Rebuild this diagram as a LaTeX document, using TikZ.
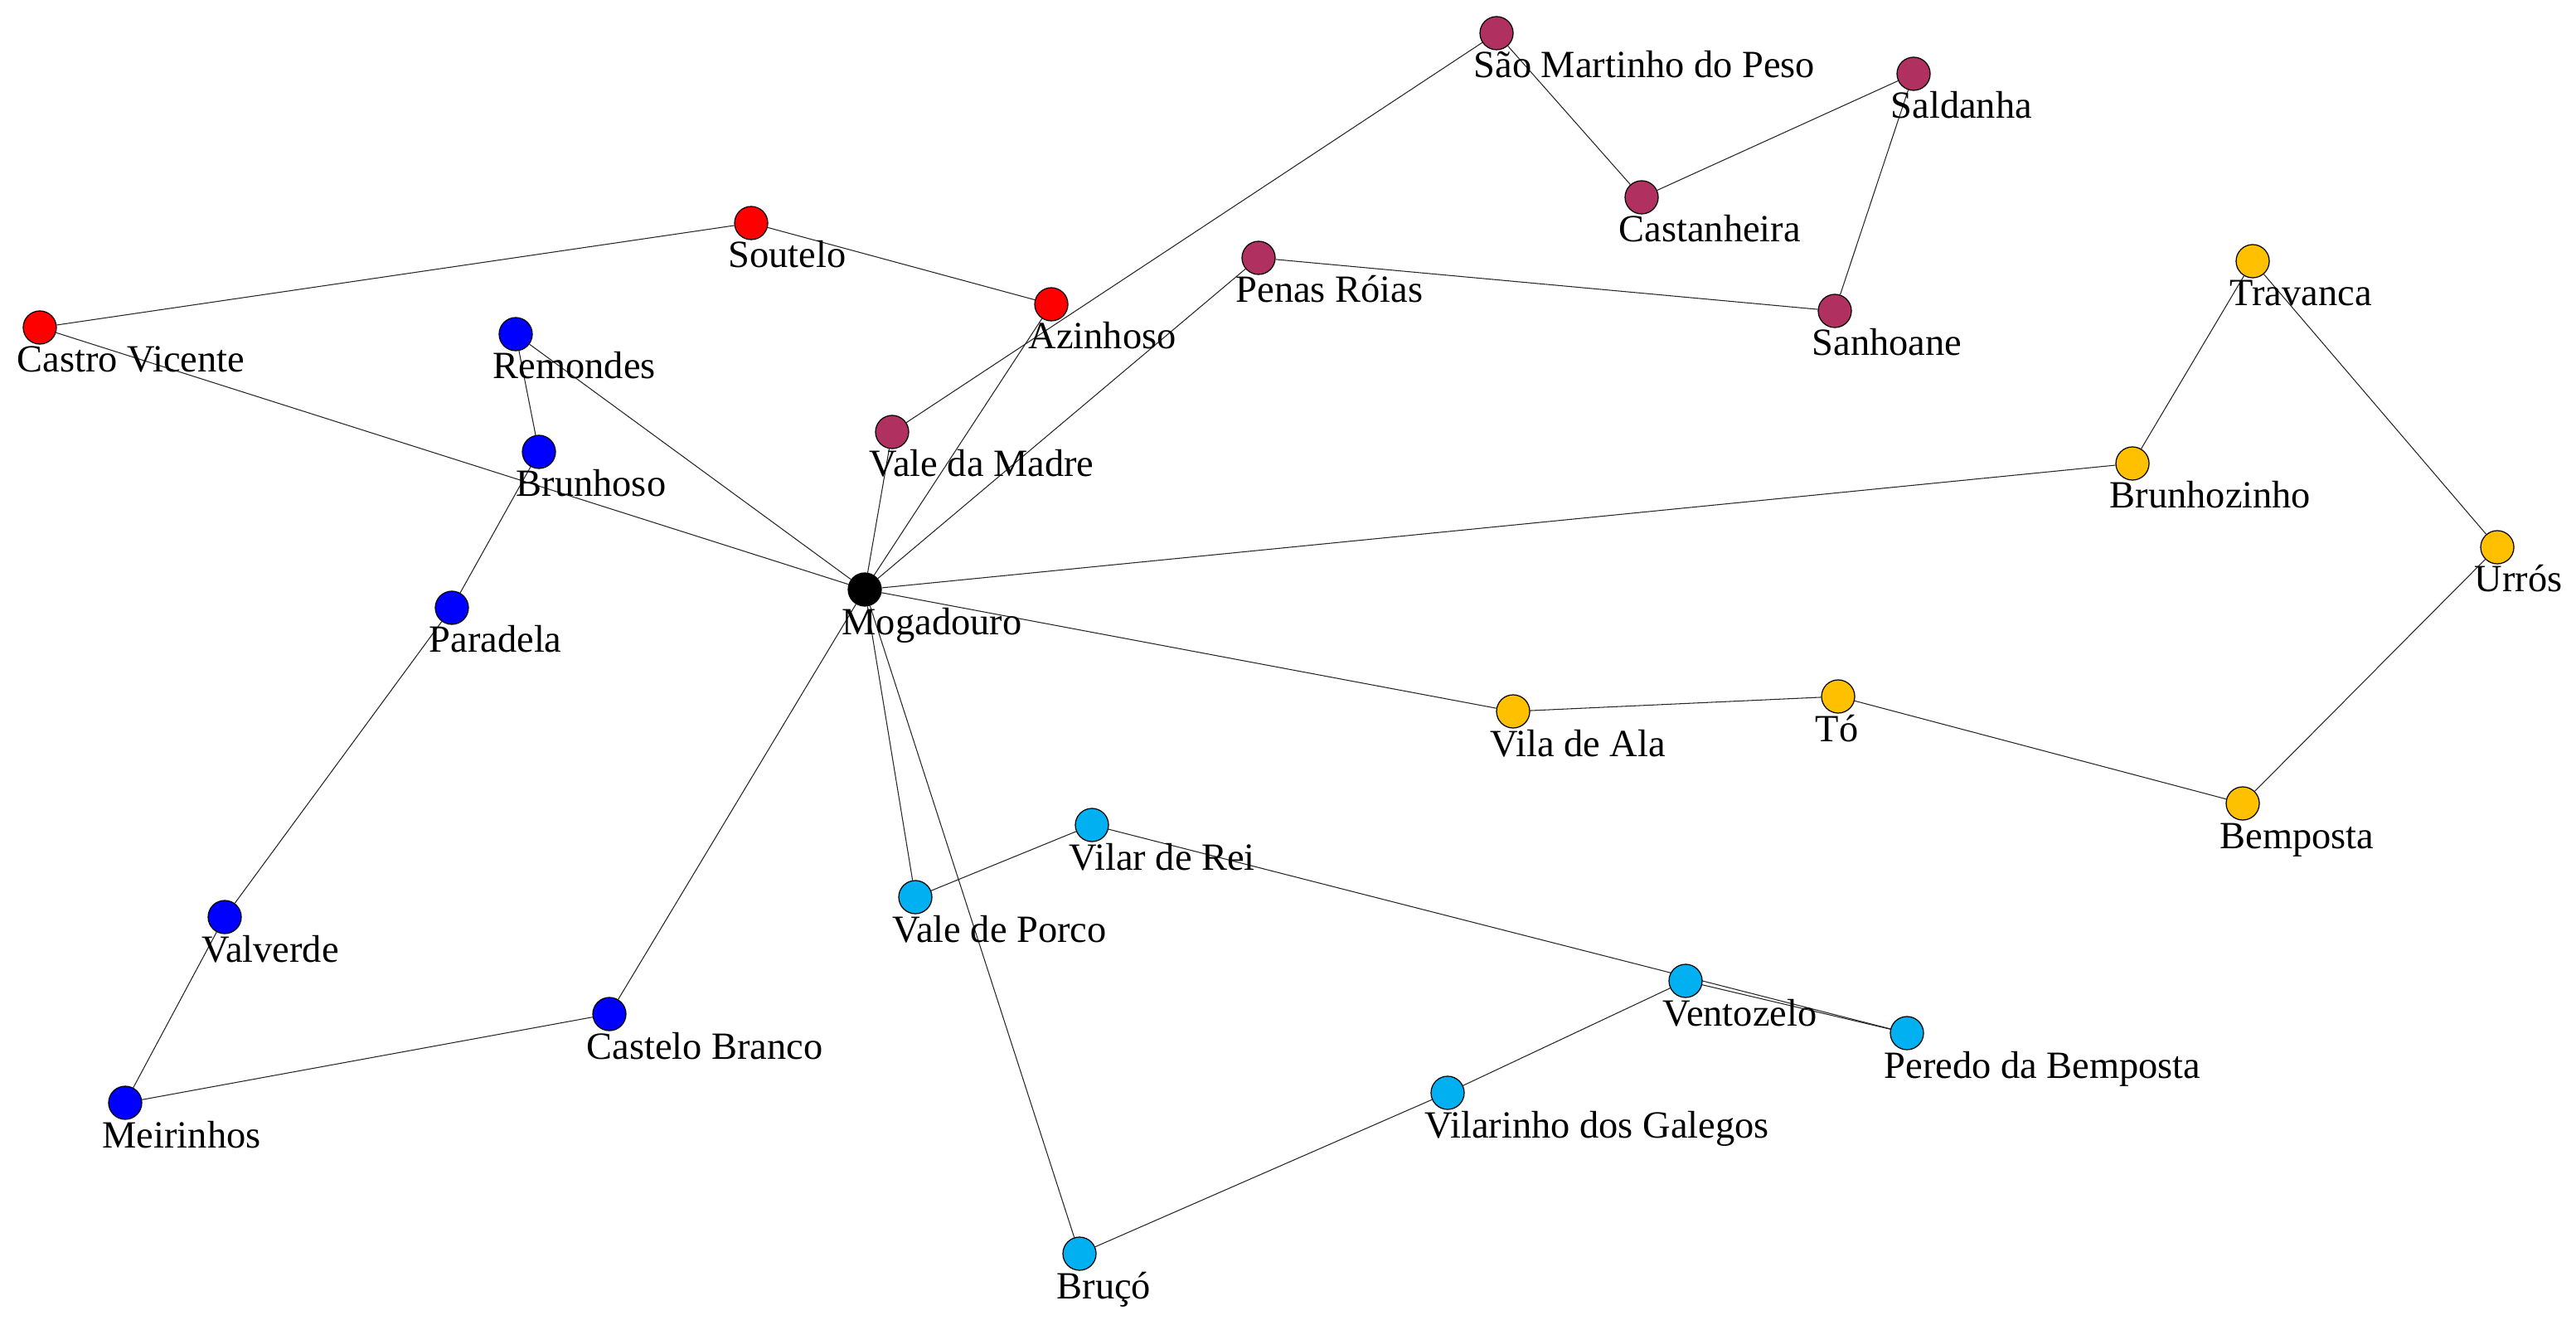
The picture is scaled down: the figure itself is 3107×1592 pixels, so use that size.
\documentclass[tikz,border=0pt]{standalone}
\usepackage{fontspec}
\setmainfont{Liberation Serif}
\usetikzlibrary{backgrounds}
\definecolor{cred}{HTML}{FF0000}
\definecolor{cblue}{HTML}{0000FF}
\definecolor{cmaroon}{HTML}{B03060}
\definecolor{cgold}{HTML}{FFC000}
\definecolor{ccyan}{HTML}{00B0F0}
\tikzset{
  dot/.style={circle,draw=black,line width=0.35pt,minimum size=0.4cm,inner sep=0pt},
  lbl/.style={anchor=base west,inner sep=0pt,font=\fontsize{13.2}{15}\selectfont},
  edge/.style={draw=black!85,line width=0.3pt}
}
\newcommand\town[5]{%
  \node[dot,fill=#4] (#1) at (#2,#3) {};
  \node[lbl] (#1-t) at (#2-28,#3+54) {#5};}
\begin{document}
\begin{tikzpicture}[x=0.01cm,y=-0.01cm]
\useasboundingbox (0,0) rectangle (3107,1592);
\town{mog}{1043}{711}{black}{Mogadouro}
\town{cv}{48}{395}{cred}{Castro Vicente}
\town{sou}{906}{269}{cred}{Soutelo}
\town{azi}{1268}{367}{cred}{Azinhoso}
\town{rem}{622}{403}{cblue}{Remondes}
\town{bru}{650}{545}{cblue}{Brunhoso}
\town{par}{545}{733}{cblue}{Paradela}
\town{val}{271}{1106}{cblue}{Valverde}
\town{mei}{151}{1330}{cblue}{Meirinhos}
\town{cb}{735}{1223}{cblue}{Castelo Branco}
\town{vm}{1076}{521}{cmaroon}{Vale da Madre}
\town{smp}{1805}{40}{cmaroon}{São Martinho do Peso}
\town{sal}{2308}{89}{cmaroon}{Saldanha}
\town{cas}{1980}{238}{cmaroon}{Castanheira}
\town{san}{2213}{375}{cmaroon}{Sanhoane}
\town{pr}{1518}{311}{cmaroon}{Penas Róias}
\town{tra}{2717}{315}{cgold}{Travanca}
\town{bzh}{2572}{559}{cgold}{Brunhozinho}
\town{urr}{3012}{660}{cgold}{Urrós}
\town{vda}{1825}{858}{cgold}{Vila de Ala}
\town{to}{2217}{840}{cgold}{Tó}
\town{bem}{2705}{969}{cgold}{Bemposta}
\town{vdr}{1317}{995}{ccyan}{Vilar de Rei}
\town{vdp}{1104}{1082}{ccyan}{Vale de Porco}
\town{ven}{2033}{1183}{ccyan}{Ventozelo}
\town{pdb}{2300}{1246}{ccyan}{Peredo da Bemposta}
\town{vdg}{1746}{1318}{ccyan}{Vilarinho dos Galegos}
\town{brc}{1302}{1512}{ccyan}{Bruçó}
\begin{pgfonlayer}{background}
\draw[edge] (cv) -- (sou);
\draw[edge] (sou) -- (azi);
\draw[edge] (cv) -- (mog);
\draw[edge] (azi) -- (mog);
\draw[edge] (rem) -- (bru);
\draw[edge] (rem) -- (mog);
\draw[edge] (bru) -- (par);
\draw[edge] (par) -- (val);
\draw[edge] (val) -- (mei);
\draw[edge] (mei) -- (cb);
\draw[edge] (cb) -- (mog);
\draw[edge] (vm) -- (mog);
\draw[edge] (vm) -- (smp);
\draw[edge] (smp) -- (cas);
\draw[edge] (cas) -- (sal);
\draw[edge] (sal) -- (san);
\draw[edge] (san) -- (pr);
\draw[edge] (pr) -- (mog);
\draw[edge] (tra) -- (bzh);
\draw[edge] (bzh) -- (mog);
\draw[edge] (tra) -- (urr);
\draw[edge] (urr) -- (bem);
\draw[edge] (bem) -- (to);
\draw[edge] (to) -- (vda);
\draw[edge] (vda) -- (mog);
\draw[edge] (mog) -- (vdp);
\draw[edge] (vdp) -- (vdr);
\draw[edge] (vdr) -- (pdb);
\draw[edge] (ven) -- (pdb);
\draw[edge] (ven) -- (vdg);
\draw[edge] (vdg) -- (brc);
\draw[edge] (brc) -- (mog);
\end{pgfonlayer}
\end{tikzpicture}
\end{document}
